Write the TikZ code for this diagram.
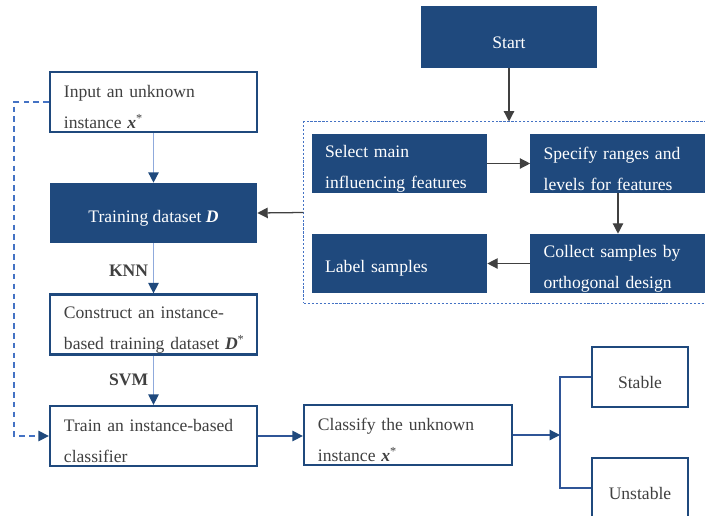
\documentclass[tikz,border=0pt]{standalone}
\usepackage{fontspec}
\setmainfont{Liberation Serif}
\usetikzlibrary{arrows.meta}
\definecolor{darkblue}{RGB}{31,73,125}
\definecolor{lineblue}{RGB}{143,170,220}
\definecolor{midblue}{RGB}{47,85,151}
\definecolor{dashblue}{RGB}{68,114,196}
\definecolor{textgray}{RGB}{64,64,64}
\newcommand{\boxfont}{\fontsize{12.5}{22}\selectfont}
\newcommand{\xstar}{\textbf{\textit{x}}\textsuperscript{*}}
\tikzset{
    boxtext/.style={font=\boxfont, execute at begin node={\noindent\rule{0pt}{16pt}}},
    darkbox/.style={boxtext, fill=darkblue, text=white, inner xsep=0.33cm, inner ysep=0pt,
            minimum height=1.475cm},
    whitebox/.style={boxtext, draw=darkblue, line width=1.6pt, fill=white, text=textgray,
            inner xsep=0.35cm, inner ysep=0pt, minimum height=1.5cm},
    groupbox/.style={draw=dashblue, line width=0.7pt, dash pattern=on 1.6pt off 1.2pt,
            minimum width=10.05cm, minimum height=4.525cm},
    edgelabel/.style={text=textgray, font=\fontsize{12.5}{15}\selectfont\bfseries},
    lightarrow/.style={draw=lineblue, line width=1pt,
            -{Triangle[length=2.6mm, width=2.6mm, color=darkblue]}},
    grayarrow/.style={draw=textgray, line width=0.9pt,
            -{Triangle[length=2.6mm, width=2.6mm]}},
    bluearrow/.style={draw=midblue, line width=0.9pt,
            -{Triangle[length=2.6mm, width=2.6mm, color=darkblue]}},
    blueline/.style={draw=midblue, line width=0.9pt},
    dashedline/.style={draw=dashblue, line width=0.9pt, dash pattern=on 4pt off 3pt,
            -{Triangle[length=2.6mm, width=2.6mm, color=darkblue]}},
}
\begin{document}
\begin{tikzpicture}[x=0.025cm, y=-0.025cm]
    \clip (0, 0) rectangle (705, 515);
    %sample collection group
    \node[groupbox] (group) at (505, 212.5) {};
    \node[darkbox, minimum width=4.4cm, minimum height=1.55cm] (start) at (509, 37) {Start};
    \node[darkbox, text width=3.715cm, align=left] (select) at (399.5, 163.5) {Select main\\influencing features};
    \node[darkbox, text width=3.715cm, align=left] (specify) at (618, 163.5) {Specify ranges and\\levels for features};
    \node[darkbox, text width=3.715cm, align=left] (collect) at (618, 263.5) {Collect samples by\\orthogonal design};
    \node[darkbox, text width=3.715cm, align=left] (labelling) at (399.5, 263.5) {Label samples};
    %left column
    \node[whitebox, text width=4.475cm, align=left] (input) at (153.5, 102) {Input an unknown\\instance \xstar};
    \node[darkbox, minimum width=5.175cm, minimum height=1.5cm] (dataset) at (153.5, 213) {Training dataset \textbf{\textit{D}}};
    \node[whitebox, text width=4.475cm, align=left] (construct) at (153.5, 324.5) {Construct an instance-\\\mbox{based training dataset \textbf{\textit{D}}\textsuperscript{*}}};
    \node[whitebox, text width=4.475cm, align=left] (trainclf) at (153.5, 436) {Train an instance-based\\classifier};
    %classification
    \node[whitebox, text width=4.5cm, align=left] (classify) at (408, 435) {Classify the unknown\\instance \xstar};
    \node[whitebox, minimum width=2.4cm] (stable) at (640, 377) {Stable};
    \node[whitebox, minimum width=2.4cm] (unstable) at (640, 488) {Unstable};
    \coordinate (split) at (560, 436);
    \coordinate (loop) at (14, 102);
    %arrows inside the group
    \draw[grayarrow] (start.south) -- (start.south |- group.north);
    \draw[grayarrow] (select) -- (specify);
    \draw[grayarrow] (specify) -- (collect);
    \draw[grayarrow] (collect) -- (labelling);
    \draw[grayarrow] (group.west) -- (dataset.east);
    %arrows of the left column
    \draw[lightarrow] (input) -- (dataset);
    \draw[lightarrow] (dataset) -- (construct) node[pos=0.55, left, edgelabel] (knn) {KNN};
    \draw[lightarrow] (construct) -- (trainclf) node[pos=0.5, left, edgelabel] (svm) {SVM};
    \draw[dashedline] (input.west) -- (loop) |- (trainclf.west);
    %output branch
    \draw[bluearrow] (trainclf.east) -- (trainclf.east -| classify.west);
    \draw[bluearrow] (classify.east) -- (classify.east -| split);
    \draw[blueline] (stable.west) -| (split) |- (unstable.west);
\end{tikzpicture}
\end{document}
